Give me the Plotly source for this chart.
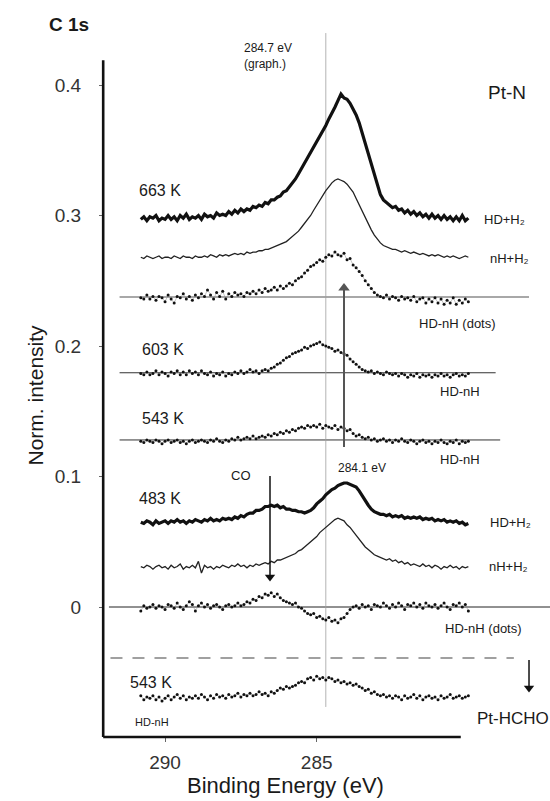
import plotly.graph_objects as go

# ---------------- data ----------------
energy = [
    290.8, 290.7, 290.6, 290.5, 290.4, 290.3, 290.2, 290.1, 290.0, 289.9,
    289.8, 289.7, 289.6, 289.5, 289.4, 289.3, 289.2, 289.1, 289.0, 288.9,
    288.8, 288.7, 288.6, 288.5, 288.4, 288.3, 288.2, 288.1, 288.0, 287.9,
    287.8, 287.7, 287.6, 287.5, 287.4, 287.3, 287.2, 287.1, 287.0, 286.9,
    286.8, 286.7, 286.6, 286.5, 286.4, 286.3, 286.2, 286.1, 286.0, 285.9,
    285.8, 285.7, 285.6, 285.5, 285.4, 285.3, 285.2, 285.1, 285.0, 284.9,
    284.8, 284.7, 284.6, 284.5, 284.4, 284.3, 284.2, 284.1, 284.0, 283.9,
    283.8, 283.7, 283.6, 283.5, 283.4, 283.3, 283.2, 283.1, 283.0, 282.9,
    282.8, 282.7, 282.6, 282.5, 282.4, 282.3, 282.2, 282.1, 282.0, 281.9,
    281.8, 281.7, 281.6, 281.5, 281.4, 281.3, 281.2, 281.1, 281.0, 280.9,
    280.8, 280.7, 280.6, 280.5, 280.4, 280.3, 280.2, 280.1, 280.0,
]

# 663 K, HD+H2 (thick)
hd_h2_663 = [
    0.297, 0.299, 0.296, 0.299, 0.298, 0.300, 0.296, 0.298, 0.297, 0.300,
    0.297, 0.299, 0.296, 0.300, 0.298, 0.301, 0.297, 0.299, 0.298, 0.300,
    0.297, 0.301, 0.299, 0.300, 0.298, 0.302, 0.300, 0.301, 0.300, 0.303,
    0.301, 0.304, 0.302, 0.305, 0.303, 0.305, 0.304, 0.307, 0.306, 0.308,
    0.307, 0.310, 0.309, 0.312, 0.312, 0.314, 0.315, 0.318, 0.319, 0.322,
    0.325, 0.328, 0.332, 0.336, 0.341, 0.345, 0.349, 0.353, 0.357, 0.361,
    0.365, 0.369, 0.374, 0.378, 0.383, 0.388, 0.393, 0.390, 0.389, 0.386,
    0.382, 0.377, 0.371, 0.363, 0.355, 0.347, 0.339, 0.330, 0.322, 0.316,
    0.312, 0.310, 0.308, 0.306, 0.307, 0.304, 0.305, 0.302, 0.304, 0.301,
    0.303, 0.300, 0.302, 0.299, 0.301, 0.298, 0.301, 0.298, 0.300, 0.297,
    0.300, 0.297, 0.299, 0.296, 0.299, 0.296, 0.300, 0.296, 0.298,
]

# 663 K, nH+H2 (thin)
nh_h2_663 = [
    0.268, 0.267, 0.269, 0.268, 0.267, 0.268, 0.269, 0.267, 0.268, 0.268,
    0.267, 0.269, 0.268, 0.267, 0.269, 0.268, 0.268, 0.267, 0.269, 0.268,
    0.268, 0.269, 0.268, 0.270, 0.269, 0.268, 0.270, 0.269, 0.270, 0.269,
    0.270, 0.271, 0.270, 0.271, 0.270, 0.272, 0.271, 0.272, 0.272, 0.273,
    0.273, 0.274, 0.274, 0.275, 0.276, 0.277, 0.278, 0.279, 0.280, 0.282,
    0.284, 0.286, 0.288, 0.291, 0.294, 0.297, 0.300, 0.304, 0.308, 0.312,
    0.316, 0.319, 0.322, 0.325, 0.327, 0.328, 0.327, 0.326, 0.324, 0.321,
    0.318, 0.313, 0.308, 0.303, 0.298, 0.293, 0.289, 0.285, 0.282, 0.279,
    0.277, 0.276, 0.275, 0.274, 0.274, 0.273, 0.272, 0.273, 0.272, 0.271,
    0.272, 0.271, 0.270, 0.271, 0.270, 0.269, 0.270, 0.269, 0.270, 0.269,
    0.268, 0.269, 0.268, 0.269, 0.268, 0.267, 0.268, 0.269, 0.268,
]

# 663 K, HD-nH (dots)
hd_nh_663 = [
    0.237, 0.236, 0.239, 0.236, 0.238, 0.235, 0.238, 0.237, 0.234, 0.239,
    0.236, 0.233, 0.238, 0.237, 0.240, 0.236, 0.238, 0.235, 0.239, 0.237,
    0.240, 0.238, 0.243, 0.239, 0.236, 0.241, 0.238, 0.242, 0.236, 0.240,
    0.238, 0.241, 0.239, 0.240, 0.238, 0.241, 0.240, 0.242, 0.240, 0.243,
    0.241, 0.244, 0.242, 0.243, 0.245, 0.243, 0.246, 0.244, 0.246, 0.248,
    0.247, 0.250, 0.252, 0.253, 0.256, 0.258, 0.261, 0.262, 0.264, 0.266,
    0.265, 0.268, 0.270, 0.269, 0.272, 0.270, 0.269, 0.271, 0.266, 0.267,
    0.262, 0.260, 0.257, 0.254, 0.250, 0.247, 0.244, 0.241, 0.239, 0.238,
    0.237, 0.239, 0.236, 0.238, 0.237, 0.235, 0.238, 0.236, 0.237, 0.235,
    0.238, 0.234, 0.236, 0.237, 0.233, 0.236, 0.234, 0.237, 0.233, 0.236,
    0.232, 0.235, 0.233, 0.237, 0.232, 0.235, 0.233, 0.236, 0.234,
]

# 603 K, HD-nH
hd_nh_603 = [
    0.179, 0.178, 0.180, 0.178, 0.179, 0.181, 0.178, 0.180, 0.179, 0.177,
    0.180, 0.179, 0.181, 0.178, 0.180, 0.178, 0.181, 0.179, 0.180, 0.178,
    0.181, 0.179, 0.178, 0.180, 0.177, 0.179, 0.178, 0.180, 0.177, 0.179,
    0.178, 0.180, 0.179, 0.181, 0.179, 0.180, 0.182, 0.180, 0.181, 0.179,
    0.181, 0.182, 0.181, 0.183, 0.184, 0.186, 0.187, 0.189, 0.191, 0.192,
    0.194, 0.195, 0.196, 0.197, 0.199, 0.198, 0.200, 0.201, 0.202, 0.203,
    0.201, 0.200, 0.199, 0.198, 0.196, 0.197, 0.195, 0.194, 0.193, 0.190,
    0.188, 0.186, 0.184, 0.182, 0.181, 0.180, 0.181, 0.179, 0.180, 0.179,
    0.178, 0.180, 0.179, 0.178, 0.179, 0.177, 0.179, 0.178, 0.176, 0.178,
    0.177, 0.179, 0.176, 0.178, 0.177, 0.178, 0.176, 0.178, 0.177, 0.179,
    0.177, 0.178, 0.176, 0.178, 0.179, 0.177, 0.178, 0.177, 0.179,
]

# 543 K, HD-nH
hd_nh_543 = [
    0.127, 0.126, 0.128, 0.127, 0.126, 0.128, 0.127, 0.125, 0.127, 0.128,
    0.126, 0.127, 0.128, 0.126, 0.127, 0.125, 0.127, 0.128, 0.126, 0.127,
    0.128, 0.127, 0.126, 0.128, 0.127, 0.129, 0.127, 0.126, 0.128, 0.127,
    0.129, 0.128, 0.130, 0.128, 0.129, 0.130, 0.129, 0.131, 0.129, 0.130,
    0.131, 0.130, 0.132, 0.131, 0.133, 0.132, 0.134, 0.133, 0.135, 0.134,
    0.136, 0.135, 0.137, 0.138, 0.137, 0.139, 0.138, 0.139, 0.138, 0.140,
    0.137, 0.139, 0.138, 0.137, 0.139, 0.136, 0.138, 0.137, 0.135, 0.136,
    0.133, 0.131, 0.132, 0.130, 0.129, 0.130, 0.128, 0.129, 0.127, 0.128,
    0.129, 0.127, 0.128, 0.126, 0.128, 0.127, 0.129, 0.127, 0.126, 0.128,
    0.127, 0.125, 0.127, 0.128, 0.126, 0.127, 0.125, 0.127, 0.126, 0.128,
    0.126, 0.125, 0.127, 0.126, 0.128, 0.125, 0.127, 0.126, 0.127,
]

# 483 K, HD+H2 (thick)
hd_h2_483 = [
    0.065, 0.064, 0.066, 0.065, 0.063, 0.066, 0.064, 0.065, 0.066, 0.064,
    0.066, 0.065, 0.067, 0.065, 0.066, 0.064, 0.066, 0.065, 0.067, 0.066,
    0.065, 0.067, 0.066, 0.068, 0.066, 0.067, 0.066, 0.068, 0.067, 0.068,
    0.067, 0.069, 0.068, 0.070, 0.069, 0.071, 0.072, 0.072, 0.074, 0.074,
    0.075, 0.077, 0.077, 0.078, 0.077, 0.078, 0.076, 0.077, 0.075, 0.075,
    0.074, 0.074, 0.073, 0.073, 0.072, 0.073, 0.074, 0.076, 0.079, 0.081,
    0.083, 0.086, 0.088, 0.090, 0.091, 0.093, 0.094, 0.095, 0.095, 0.094,
    0.093, 0.092, 0.089, 0.085, 0.081, 0.078, 0.075, 0.073, 0.072, 0.071,
    0.071, 0.070, 0.071, 0.069, 0.070, 0.069, 0.070, 0.068, 0.069, 0.068,
    0.069, 0.068, 0.069, 0.067, 0.068, 0.067, 0.068, 0.066, 0.067, 0.066,
    0.067, 0.065, 0.066, 0.065, 0.066, 0.064, 0.065, 0.063, 0.064,
]

# 483 K, nH+H2 (thin)
nh_h2_483 = [
    0.031, 0.030, 0.032, 0.031, 0.029, 0.031, 0.032, 0.030, 0.031, 0.029,
    0.032, 0.030, 0.031, 0.033, 0.029, 0.031, 0.030, 0.032, 0.030, 0.035,
    0.026, 0.032, 0.030, 0.031, 0.029, 0.031, 0.030, 0.032, 0.031, 0.030,
    0.032, 0.031, 0.033, 0.031, 0.032, 0.030, 0.032, 0.031, 0.033, 0.032,
    0.033, 0.034, 0.033, 0.035, 0.034, 0.036, 0.036, 0.037, 0.038, 0.039,
    0.040, 0.041, 0.043, 0.044, 0.046, 0.048, 0.050, 0.052, 0.054, 0.057,
    0.059, 0.061, 0.063, 0.065, 0.067, 0.068, 0.067, 0.066, 0.063, 0.061,
    0.058, 0.055, 0.052, 0.049, 0.046, 0.044, 0.042, 0.040, 0.039, 0.038,
    0.037, 0.036, 0.037, 0.035, 0.036, 0.034, 0.035, 0.033, 0.034, 0.032,
    0.033, 0.032, 0.031, 0.033, 0.031, 0.032, 0.030, 0.032, 0.031, 0.029,
    0.031, 0.030, 0.032, 0.030, 0.031, 0.029, 0.031, 0.030, 0.031,
]

# 483 K, HD-nH (dots)
hd_nh_483 = [
    -0.003, 0.001, -0.001, 0.000, 0.002, -0.001, 0.001, 0.000, -0.002, 0.002,
    0.001, -0.001, 0.003, 0.000, -0.002, 0.001, 0.004, 0.002, -0.003, 0.001,
    0.003, 0.000, 0.002, -0.001, 0.001, 0.002, 0.000, -0.002, 0.001, 0.002,
    0.000, 0.001, 0.003, 0.001, 0.002, 0.004, 0.003, 0.006, 0.005, 0.008,
    0.007, 0.010, 0.009, 0.011, 0.008, 0.010, 0.007, 0.005, 0.004, 0.003,
    0.002, 0.003, 0.000, -0.001, -0.003, -0.005, -0.006, -0.005, -0.008, -0.007,
    -0.009, -0.010, -0.008, -0.011, -0.010, -0.012, -0.009, -0.008, -0.005, -0.002,
    0.000, 0.001, -0.001, 0.002, 0.000, 0.001, -0.002, 0.002, 0.001, 0.000,
    0.003, 0.001, -0.001, 0.002, 0.000, 0.003, 0.001, -0.002, 0.002, 0.001,
    0.003, 0.000, 0.002, -0.001, 0.003, 0.001, 0.000, 0.002, -0.001, 0.001,
    0.003, 0.000, -0.002, 0.002, 0.001, 0.003, 0.000, 0.002, -0.003,
]

# Pt-HCHO, 543 K, HD-nH
hd_nh_hcho_543 = [
    -0.068, -0.071, -0.069, -0.070, -0.068, -0.071, -0.069, -0.072, -0.070, -0.068,
    -0.071, -0.069, -0.067, -0.070, -0.068, -0.071, -0.069, -0.070, -0.068, -0.070,
    -0.067, -0.069, -0.071, -0.068, -0.070, -0.067, -0.069, -0.068, -0.070, -0.067,
    -0.069, -0.068, -0.066, -0.069, -0.067, -0.068, -0.066, -0.068, -0.067, -0.065,
    -0.067, -0.066, -0.068, -0.065, -0.066, -0.064, -0.062, -0.063, -0.061, -0.062,
    -0.061, -0.060, -0.058, -0.057, -0.058, -0.055, -0.054, -0.056, -0.053, -0.055,
    -0.054, -0.056, -0.054, -0.055, -0.057, -0.056, -0.058, -0.057, -0.059, -0.058,
    -0.060, -0.059, -0.061, -0.062, -0.064, -0.063, -0.066, -0.065, -0.067, -0.068,
    -0.067, -0.069, -0.068, -0.070, -0.068, -0.069, -0.071, -0.068, -0.070, -0.069,
    -0.067, -0.070, -0.068, -0.071, -0.069, -0.068, -0.070, -0.069, -0.071, -0.068,
    -0.070, -0.069, -0.067, -0.070, -0.069, -0.068, -0.070, -0.069, -0.068,
]

# difference-spectrum reference levels
level_663 = 0.2375
level_603 = 0.1795
level_543 = 0.128
level_483 = 0.0
level_separator = -0.039

graphite_be = 284.7
peak_be = 284.1
co_be = 286.54

y_tick_vals = [0, 0.1, 0.2, 0.3, 0.4]
y_tick_text = ["0", "0.1", "0.2", "0.3", "0.4"]
x_tick_vals = [290, 285]
x_tick_text = ["290", "285"]

# ---------------- figure ----------------
FONT = "Liberation Sans, Arial, Helvetica, sans-serif"
INK = "#1a1a1a"

fig = go.Figure()

def thick(y):
    fig.add_trace(go.Scatter(x=energy, y=y, mode="lines",
                             line=dict(color="#111111", width=3.2), showlegend=False))

def thin(y):
    fig.add_trace(go.Scatter(x=energy, y=y, mode="lines",
                             line=dict(color="#222222", width=1.3), showlegend=False))

def dots(y):
    fig.add_trace(go.Scatter(x=energy, y=y, mode="lines+markers",
                             line=dict(color="#888888", width=0.5),
                             marker=dict(color="#111111", size=3),
                             showlegend=False))

def hline(level, e0, e1, color, width, dash="solid"):
    fig.add_shape(type="line", xref="x", yref="y", x0=e0, x1=e1, y0=level, y1=level,
                  line=dict(color=color, width=width, dash=dash), layer="below")

hline(level_663, 291.5, 278.0, "#a8a8a8", 2)
hline(level_603, 291.5, 279.1, "#333333", 1)
hline(level_543, 291.5, 278.95, "#333333", 1)
hline(level_483, 291.85, 277.3, "#222222", 1)
hline(level_separator, 291.8, 278.5, "#a0a0a0", 2, dash="12px,10px")

# graphite position line
fig.add_shape(type="line", xref="x", yref="y", x0=graphite_be, x1=graphite_be,
              y0=-0.0766, y1=0.4398, line=dict(color="#a0a0a0", width=0.8), layer="below")

thick(hd_h2_663)
thin(nh_h2_663)
dots(hd_nh_663)
dots(hd_nh_603)
dots(hd_nh_543)
thick(hd_h2_483)
thin(nh_h2_483)
dots(hd_nh_483)
dots(hd_nh_hcho_543)

# axis frame lines (left and bottom)
x_left = 292.04
y_bottom = -0.0996
fig.add_shape(type="line", xref="x", yref="y", x0=x_left, x1=x_left, y0=y_bottom, y1=0.419,
              line=dict(color="#111111", width=2.6))
fig.add_shape(type="line", xref="x", yref="y", x0=x_left, x1=280.25, y0=y_bottom, y1=y_bottom,
              line=dict(color="#111111", width=2.6))

# arrows: shaft as a line shape, head as a triangle marker
def arrow(x, y_tail, y_head_center, symbol, color, width, head):
    fig.add_shape(type="line", xref="x", yref="y", x0=x, x1=x, y0=y_tail, y1=y_head_center,
                  line=dict(color=color, width=width))
    fig.add_trace(go.Scatter(x=[x], y=[y_head_center], mode="markers",
                             marker=dict(symbol=symbol, size=head, color=color,
                                         line=dict(width=0)),
                             showlegend=False, hoverinfo="skip"))

arrow(peak_be, 0.1226, 0.2444, "triangle-up", "#555555", 2, 10)
arrow(co_be, 0.1004, 0.0230, "triangle-down", "#111111", 1.5, 9)
arrow(278.0, -0.0406, -0.0621, "triangle-down", "#111111", 1.5, 9)

# text labels
def label(text, x, y, size, xanchor="left", xref="x", yref="y", **kw):
    fig.add_annotation(x=x, y=y, xref=xref, yref=yref, text=text, showarrow=False,
                       xanchor=xanchor, yanchor="middle",
                       font=dict(family=FONT, size=size, color=INK), **kw)

label("663 K", 290.92, 0.3195, 16)
label("HD+H₂", 279.55, 0.2973, 13)
label("nH+H₂", 279.35, 0.2667, 13)
label("HD-nH (dots)", 281.69, 0.2169, 13)
label("603 K", 290.83, 0.1977, 16)
label("HD-nH", 281.0, 0.1648, 13)
label("543 K", 290.83, 0.1448, 16)
label("HD-nH", 281.0, 0.1134, 13)
label("284.1 eV", 283.51, 0.1065, 12, xanchor="center")
label("CO", 287.5, 0.1011, 13, xanchor="center")
label("483 K", 290.92, 0.0828, 16)
label("HD+H₂", 279.35, 0.0644, 13)
label("nH+H₂", 279.39, 0.0307, 13)
label("HD-nH (dots)", 280.84, -0.0161, 13)
label("543 K", 291.22, -0.0582, 16)
label("HD-nH", 291.06, -0.0881, 11)
label("Pt-HCHO", 279.78, -0.0851, 17)
label("Pt-N", 278.73, 0.3946, 19, xanchor="center")
label("284.7 eV", 287.46, 0.4283, 12)
label("(graph.)", 287.46, 0.4160, 12)
label("<b>C 1s</b>", -0.0525, 0.9667, 19, xanchor="center", xref="paper", yref="paper")
label("Norm. intensity", -0.1269, 0.4727, 21, xanchor="center", xref="paper", yref="paper",
      textangle=-90)
label("Binding Energy (eV)", 0.4223, -0.0467, 22, xanchor="center", xref="paper", yref="paper")

fig.update_layout(
    width=550, height=801,
    margin=dict(l=93, r=0, t=0, b=51, pad=0),
    paper_bgcolor="white", plot_bgcolor="white",
    font=dict(family=FONT, color=INK),
    showlegend=False,
    xaxis=dict(range=[292.376, 277.308], anchor="free", position=0.01733,
               showline=False, showgrid=False, zeroline=False,
               ticks="outside", ticklen=4, tickwidth=1, tickcolor="#666666",
               tickvals=x_tick_vals, ticktext=x_tick_text,
               tickfont=dict(family=FONT, size=19, color="#333333"),
               ticklabelstandoff=4),
    yaxis=dict(range=[-0.10958, 0.46513], anchor="free", position=0.02188,
               showline=False, showgrid=False, zeroline=False,
               ticks="outside", ticklen=4, tickwidth=1, tickcolor="#666666",
               tickvals=y_tick_vals, ticktext=y_tick_text,
               tickfont=dict(family=FONT, size=19, color="#333333"),
               ticklabelstandoff=14),
)

fig.write_html("out.html", config={"displayModeBar": False},
               post_script="document.body.style.margin='0';")
